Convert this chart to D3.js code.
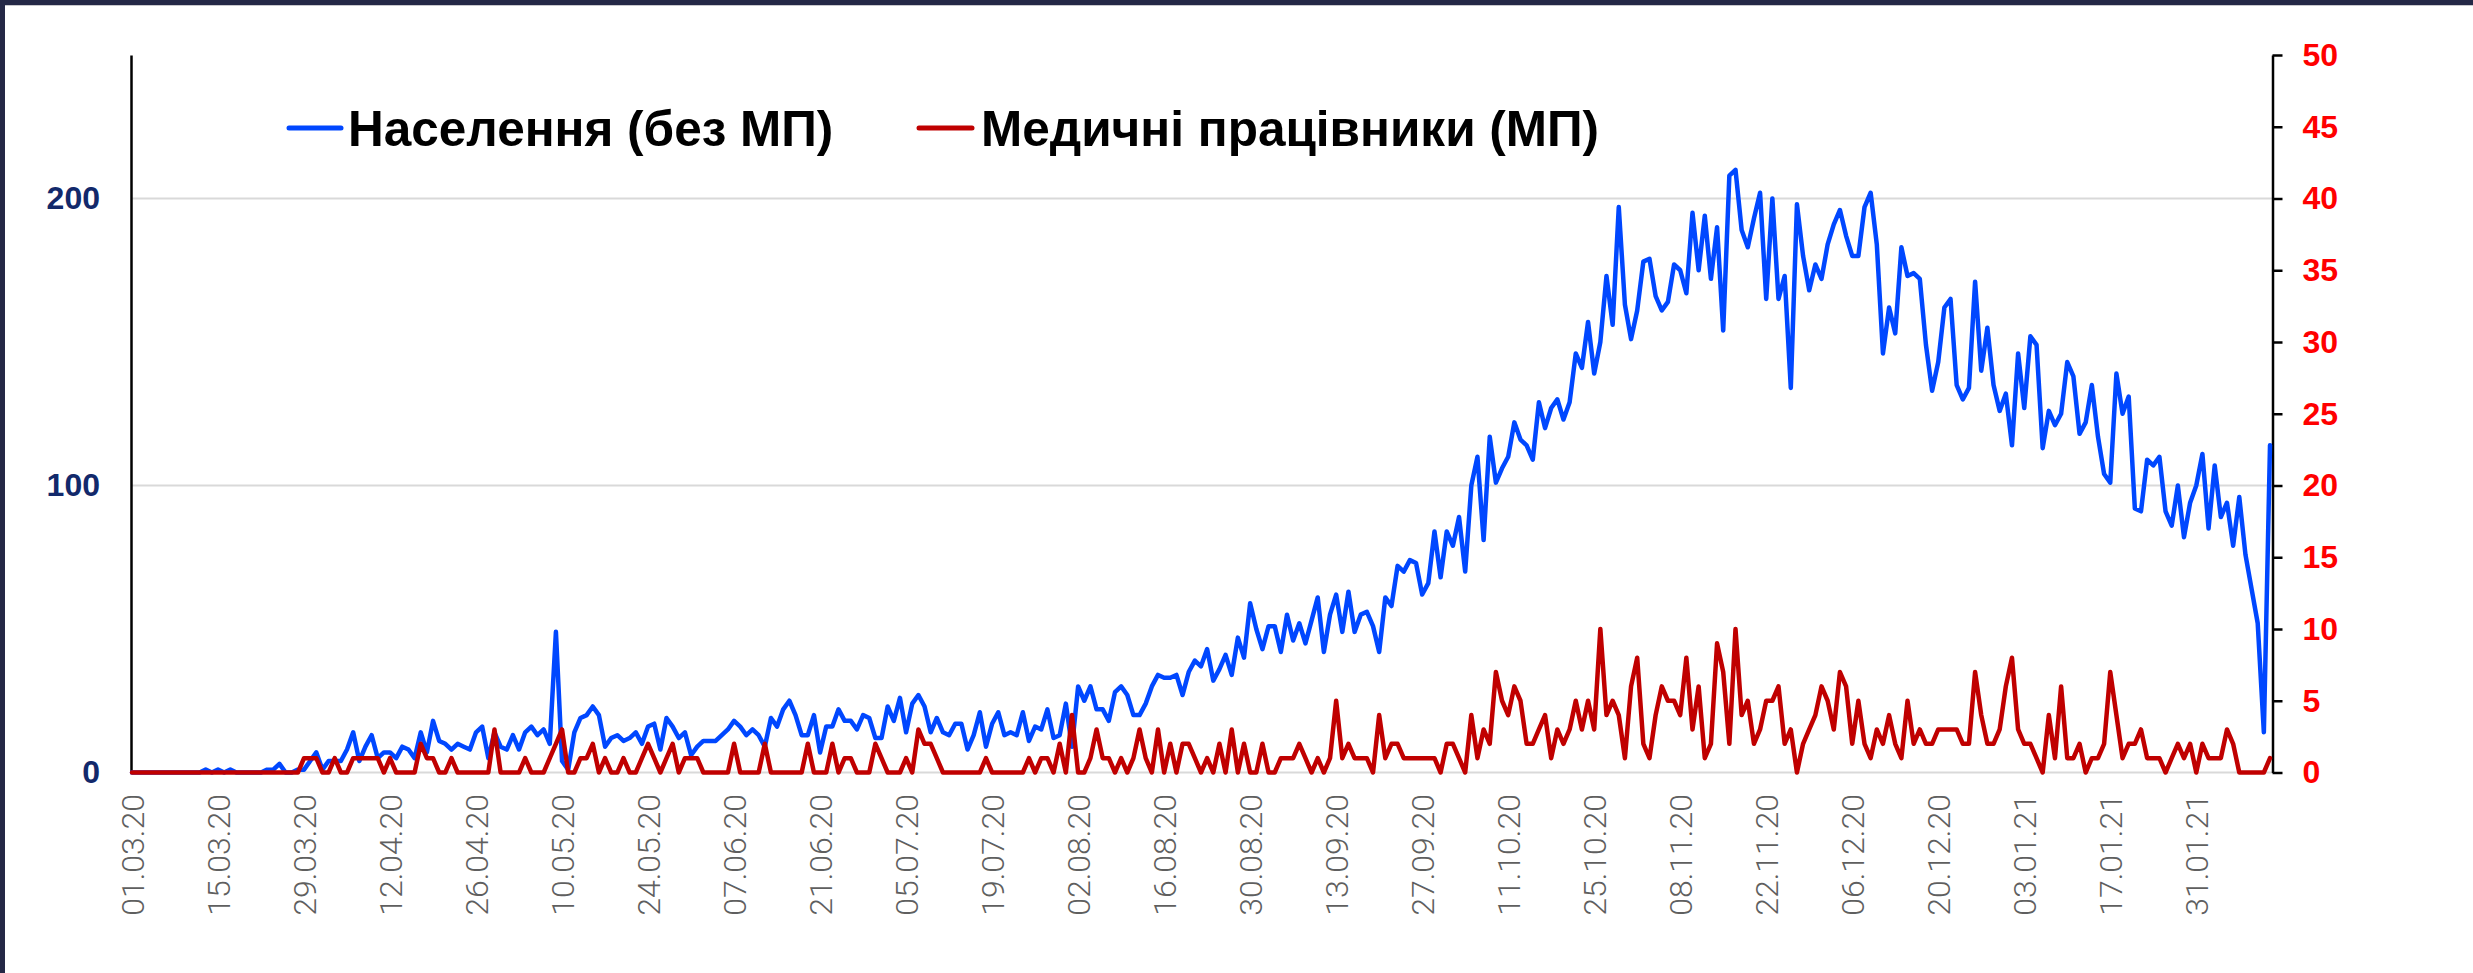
<!DOCTYPE html>
<html>
<head>
<meta charset="utf-8">
<script src="https://cdn.jsdelivr.net/npm/d3@7"></script>
<style>
  body { margin: 0; background: #fff; }
</style>
</head>
<body>
<script>
// Daily cases, 01.03.20 - 12.02.21 (one value per day)

// population without medical workers (left axis)
var population = [
  0,0,0,0,0,0,0,0,0,0,
  0,0,1,0,1,0,1,0,0,0,
  0,0,1,1,3,0,0,1,1,4,
  7,1,4,4,4,8,14,4,9,13,
  5,7,7,5,9,8,5,14,7,18,
  11,10,8,10,9,8,14,16,5,14,
  9,8,13,8,14,16,13,15,10,49,
  4,1,14,19,20,23,20,9,12,13,
  11,12,14,10,16,17,8,19,16,12,
  14,6,9,11,11,11,13,15,18,16,
  13,15,13,9,19,16,22,25,20,13,
  13,20,7,16,16,22,18,18,15,20,
  19,12,12,23,18,26,14,24,27,23,
  14,19,14,13,17,17,8,13,21,9,
  17,21,13,14,13,21,11,16,15,22,
  12,13,24,9,30,25,30,22,22,18,
  28,30,27,20,20,24,30,34,33,33,
  34,27,35,39,37,43,32,36,41,34,
  47,40,59,50,43,51,51,42,55,46,
  52,45,53,61,42,55,62,49,63,49,
  55,56,51,42,61,58,72,70,74,73,
  62,66,84,68,84,79,89,70,100,110,
  81,117,101,106,110,122,116,114,109,129,
  120,127,130,123,129,146,141,157,139,150,
  173,156,197,163,151,161,178,179,166,161,
  164,177,175,167,195,175,194,172,190,154,
  208,210,189,183,193,202,165,200,165,173,
  134,198,180,168,177,172,184,191,196,187,
  180,180,197,202,184,146,162,153,183,173,
  174,172,149,133,143,162,165,135,130,134,
  171,140,155,135,126,132,114,146,127,152,
  149,113,126,121,125,143,138,118,122,135,
  117,104,101,139,125,131,92,91,109,107,
  110,91,86,100,82,94,100,111,85,107,
  89,94,79,96,76,64,52,14,114
];

// medical workers (right axis)
var medics = [
  0,0,0,0,0,0,0,0,0,0,
  0,0,0,0,0,0,0,0,0,0,
  0,0,0,0,0,0,0,0,1,1,
  1,0,0,1,0,0,1,1,1,1,
  1,0,1,0,0,0,0,2,1,1,
  0,0,1,0,0,0,0,0,0,3,
  0,0,0,0,1,0,0,0,1,2,
  3,0,0,1,1,2,0,1,0,0,
  1,0,0,1,2,1,0,1,2,0,
  1,1,1,0,0,0,0,0,2,0,
  0,0,0,2,0,0,0,0,0,0,
  2,0,0,0,2,0,1,1,0,0,
  0,2,1,0,0,0,1,0,3,2,
  2,1,0,0,0,0,0,0,0,1,
  0,0,0,0,0,0,1,0,1,1,
  0,2,0,4,0,0,1,3,1,1,
  0,1,0,1,3,1,0,3,0,2,
  0,2,2,1,0,1,0,2,0,3,
  0,2,0,0,2,0,0,1,1,1,
  2,1,0,1,0,1,5,1,2,1,
  1,1,0,4,1,2,2,1,1,1,
  1,1,1,0,2,2,1,0,4,1,
  3,2,7,5,4,6,5,2,2,3,
  4,1,3,2,3,5,3,5,3,10,
  4,5,4,1,6,8,2,1,4,6,
  5,5,4,8,3,6,1,2,9,7,
  2,10,4,5,2,3,5,5,6,2,
  3,0,2,3,4,6,5,3,7,6,
  2,5,2,1,3,2,4,2,1,5,
  2,3,2,2,3,3,3,3,2,2,
  7,4,2,2,3,6,8,3,2,2,
  1,0,4,1,6,1,1,2,0,1,
  1,2,7,4,1,2,2,3,1,1,
  1,0,1,2,1,2,0,2,1,1,
  1,3,2,0,0,0,0,0,1
];

var tickLabels = [
  "01.03.20","15.03.20","29.03.20","12.04.20","26.04.20","10.05.20","24.05.20",
  "07.06.20","21.06.20","05.07.20","19.07.20","02.08.20","16.08.20","30.08.20",
  "13.09.20","27.09.20","11.10.20","25.10.20","08.11.20","22.11.20","06.12.20",
  "20.12.20","03.01.21","17.01.21","31.01.21"
];

var leftTicks = [0, 100, 200];
var rightTicks = [0, 5, 10, 15, 20, 25, 30, 35, 40, 45, 50];
var seriesNames = ["Населення (без МП)", "Медичні працівники (МП)"];
var firstDay = "01.03.20";

var w = 2473;
var h = 973;

var svg = d3.select("body")
  .append("svg")
  .attr("width", w)
  .attr("height", h);

// dark frame on top and left edge
svg.append("rect").attr("x", 0).attr("y", 0).attr("width", w).attr("height", 5).attr("fill", "#242846");
svg.append("rect").attr("x", 0).attr("y", 0).attr("width", 5).attr("height", h).attr("fill", "#242846");
svg.append("rect").attr("x", 5).attr("y", 5).attr("width", w - 5).attr("height", 1).attr("fill", "#c8c8cc");

var parse = d3.utcParse("%d.%m.%y");
var start = parse(firstDay);
var dates = population.map(function(d, i) { return d3.utcDay.offset(start, i); });

var x = d3.scaleUtc()
  .domain([dates[0], dates[dates.length - 1]])
  .range([132, 2270]);
var yLeft = d3.scaleLinear().domain([0, 250]).range([772.5, 55]);
var yRight = d3.scaleLinear().domain([0, 50]).range([772.5, 55]);

// gridlines
svg.selectAll("line.grid")
  .data(leftTicks)
  .enter()
  .append("line")
  .attr("class", "grid")
  .attr("x1", 131)
  .attr("x2", 2272)
  .attr("y1", function(d) { return yLeft(d); })
  .attr("y2", function(d) { return yLeft(d); })
  .attr("stroke", "#d9d9d9")
  .attr("stroke-width", 2);

// left axis
var gl = svg.append("g")
  .attr("transform", "translate(131,0)")
  .call(d3.axisLeft(yLeft).tickValues(leftTicks).tickSize(0).tickPadding(31));
gl.select(".domain").attr("stroke", "#000").attr("stroke-width", 2.5);
gl.selectAll("text")
  .attr("font-family", "'Liberation Sans', Arial, sans-serif")
  .attr("font-weight", "bold")
  .attr("font-size", 32)
  .attr("fill", "#12296b");

// right axis
var gr = svg.append("g")
  .attr("transform", "translate(2272.5,0)")
  .call(d3.axisRight(yRight).tickValues(rightTicks).tickSizeInner(10).tickSizeOuter(0).tickPadding(20));
gr.select(".domain").attr("stroke", "#000").attr("stroke-width", 2.5);
gr.selectAll(".tick line").attr("stroke", "#000").attr("stroke-width", 2.5);
gr.selectAll("text")
  .attr("font-family", "'Liberation Sans', Arial, sans-serif")
  .attr("font-weight", "bold")
  .attr("font-size", 32)
  .attr("fill", "#ff0000");

// date labels, rotated
svg.selectAll("text.date")
  .data(tickLabels)
  .enter()
  .append("text")
  .attr("class", "date")
  .attr("transform", function(d) {
    return "translate(" + x(parse(d)) + ",794) rotate(-90)";
  })
  .attr("dy", "0.36em")
  .attr("text-anchor", "end")
  .attr("font-family", "Roboto, sans-serif")
  .attr("font-weight", 300)
  .attr("font-size", 32)
  .attr("fill", "#5f5f5f")
  .text(function(d) { return d; });

// lines
var lineLeft = d3.line()
  .x(function(d, i) { return x(dates[i]); })
  .y(function(d) { return yLeft(d); });
var lineRight = d3.line()
  .x(function(d, i) { return x(dates[i]); })
  .y(function(d) { return yRight(d); });

svg.append("path")
  .datum(population)
  .attr("d", lineLeft)
  .attr("fill", "none")
  .attr("stroke", "#0047ff")
  .attr("stroke-width", 4.5)
  .attr("stroke-linejoin", "round")
  .attr("stroke-linecap", "round");

svg.append("path")
  .datum(medics)
  .attr("d", lineRight)
  .attr("fill", "none")
  .attr("stroke", "#c00000")
  .attr("stroke-width", 4.5)
  .attr("stroke-linejoin", "round")
  .attr("stroke-linecap", "round");

// legend
var legend = [
  { name: seriesNames[0], color: "#0047ff", x0: 289, x1: 341, tx: 348 },
  { name: seriesNames[1], color: "#c00000", x0: 919, x1: 972, tx: 981 }
];
legend.forEach(function(l) {
  svg.append("line")
    .attr("x1", l.x0).attr("x2", l.x1)
    .attr("y1", 128).attr("y2", 128)
    .attr("stroke", l.color)
    .attr("stroke-width", 5)
    .attr("stroke-linecap", "round");
  svg.append("text")
    .attr("x", l.tx)
    .attr("y", 128)
    .attr("dy", "0.36em")
    .attr("font-family", "'Liberation Sans', Arial, sans-serif")
    .attr("font-weight", "bold")
    .attr("font-size", 49.5)
    .attr("fill", "#000")
    .text(l.name);
});
</script>
</body>
</html>
